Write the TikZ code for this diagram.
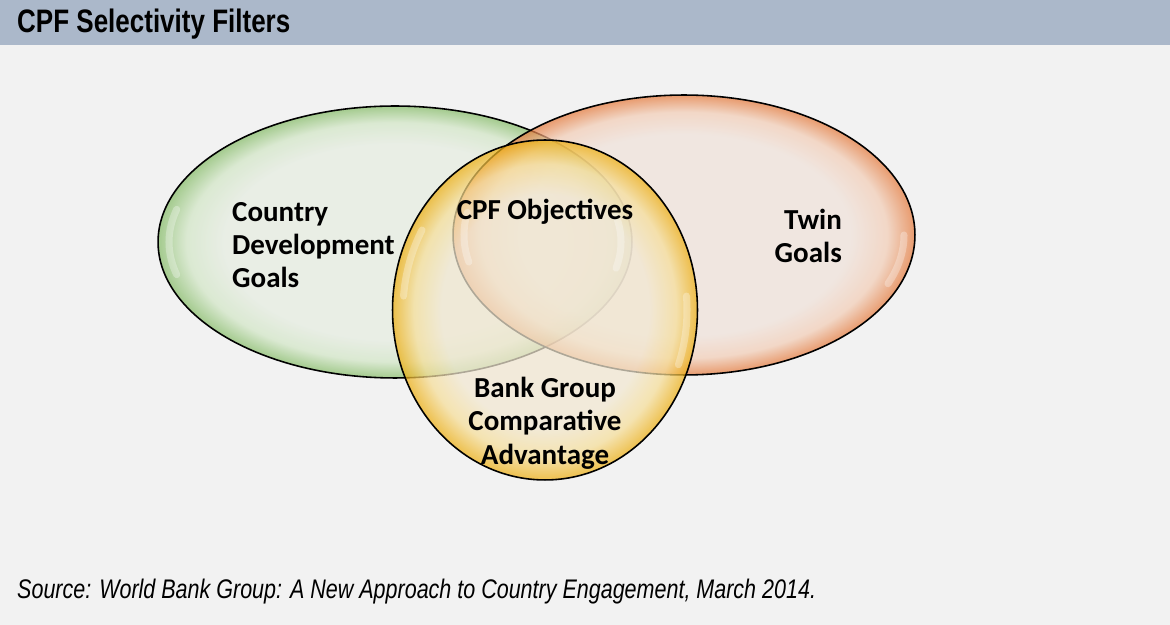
\documentclass[tikz,border=0pt]{standalone}
\usepackage{fontspec}
\setmainfont{Carlito}
\newfontfamily\narrowsans[FakeStretch=0.8]{Liberation Sans}
\usetikzlibrary{shapes.geometric}

% palette
\definecolor{pagegray}{HTML}{F2F2F2}
\definecolor{headerblue}{HTML}{ABB8CA}
\definecolor{greenin}{HTML}{E6EDE1}
\definecolor{greenmid}{HTML}{D2E6C6}
\definecolor{greenedge}{HTML}{86BC68}
\definecolor{orangein}{HTML}{F0E2DA}
\definecolor{orangemid}{HTML}{F2CDB6}
\definecolor{orangeedge}{HTML}{E57A3C}
\definecolor{yellowin}{HTML}{F2E8D2}
\definecolor{yellowmid}{HTML}{F6DE98}
\definecolor{yellowedge}{HTML}{EDAE10}

% bubble shadings: pale middle, saturated rim
\pgfdeclareradialshading{greenbubble}{\pgfpoint{0bp}{0bp}}{color(0bp)=(greenin); color(18bp)=(greenin); color(22bp)=(greenmid); color(25bp)=(greenedge); color(50bp)=(greenedge)}
\pgfdeclareradialshading{orangebubble}{\pgfpoint{0bp}{0bp}}{color(0bp)=(orangein); color(18bp)=(orangein); color(22bp)=(orangemid); color(25bp)=(orangeedge); color(50bp)=(orangeedge)}
\pgfdeclareradialshading{yellowbubble}{\pgfpoint{0bp}{0bp}}{color(0bp)=(yellowin); color(17bp)=(yellowin); color(21.5bp)=(yellowmid); color(25bp)=(yellowedge); color(50bp)=(yellowedge)}

\begin{document}
\begin{tikzpicture}[
    x=0.02cm, y=0.02cm,
    bubble/.style={ellipse, draw=black, line width=0.9pt, inner sep=0pt, fill opacity=0.72},
    glint/.style={draw=white, line cap=round, opacity=0.3, line width=4pt},
    goal/.style={font=\fontsize{16.5}{19}\selectfont\bfseries, text=black}
]
\useasboundingbox (0,0) rectangle (1170,625);

% Page and header bar
\fill[pagegray] (0,0) rectangle (1170,625);
\fill[headerblue] (0,580) rectangle (1170,625);
\node[anchor=west, font=\narrowsans\fontsize{18.5}{22}\selectfont\bfseries] (title) at (11,601) {CPF Selectivity Filters};

% Filters
\node[bubble, shading=greenbubble, minimum width=9.48cm, minimum height=5.44cm] (country) at (395,383) {};
\node[bubble, shading=orangebubble, minimum width=9.24cm, minimum height=5.6cm] (twin) at (684,390) {};
\node[bubble, shading=yellowbubble, minimum width=6.1cm, minimum height=6.8cm] (bank) at (545,315) {};

% Highlights on the rims
\draw[glint] (395,383) ++(165:226 and 126) arc[start angle=165, end angle=195, x radius=226, y radius=126];
\draw[glint] (395,383) ++(-12:226 and 126) arc[start angle=-12, end angle=12, x radius=226, y radius=126];
\draw[glint] (684,390) ++(170:220 and 130) arc[start angle=170, end angle=192, x radius=220, y radius=130];
\draw[glint] (684,390) ++(-22:220 and 130) arc[start angle=-22, end angle=0, x radius=220, y radius=130];
\draw[glint] (545,315) ++(150:142 and 160) arc[start angle=150, end angle=175, x radius=142, y radius=160];
\draw[glint] (545,315) ++(-20:142 and 160) arc[start angle=-20, end angle=5, x radius=142, y radius=160];

% Labels
\node[goal, anchor=west, align=left] (countrytext) at (226,380) {Country\\Development\\Goals};
\node[goal] (cpf) at (545,413) {CPF Objectives};
\node[goal, anchor=east, align=right] (twintext) at (848,389) {Twin\\Goals};
\node[goal, align=center] (banktext) at (545,202) {Bank Group\\Comparative\\Advantage};

% Source line
\node[anchor=west, font=\narrowsans\fontsize{15.3}{18}\selectfont\itshape] (source) at (11,33) {Source: World Bank Group: A New Approach to Country Engagement, March 2014.};
\end{tikzpicture}
\end{document}
